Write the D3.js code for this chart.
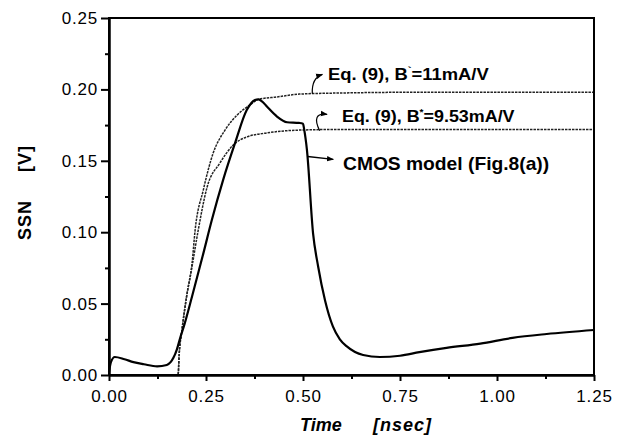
<!DOCTYPE html>
<html lang="en">
<head>
  <meta charset="UTF-8">
  <script src="https://d3js.org/d3.v7.min.js"></script>
  <title>SSN</title>
  <style>
    body { margin: 0; background: #fff; }
    text { font-family: "Liberation Sans", Arial, sans-serif; }
  </style>
</head>
<body>
  <script>
    // CMOS model (Fig.8(a)) - solid curve
    const cmosT = [0, 0.005, 0.015, 0.04, 0.063, 0.09, 0.124, 0.149, 0.166, 0.175, 0.183, 0.195,
                   0.214, 0.243, 0.265, 0.294, 0.325, 0.355, 0.376, 0.385, 0.395, 0.407, 0.433,
                   0.459, 0.49, 0.50, 0.503, 0.510, 0.526, 0.539, 0.557, 0.577, 0.595, 0.613,
                   0.655, 0.698, 0.75, 0.80, 0.87, 0.957, 1.04, 1.128, 1.25];
    const cmosV = [0.002, 0.009, 0.0126, 0.011, 0.009, 0.0075, 0.006, 0.007, 0.012, 0.018, 0.0255, 0.036,
                   0.055, 0.085, 0.1085, 0.1365, 0.1625, 0.1855, 0.1925, 0.193, 0.1915, 0.188, 0.181,
                   0.177, 0.1765, 0.176, 0.172, 0.158, 0.099, 0.076, 0.052, 0.034, 0.025, 0.020,
                   0.014, 0.0126, 0.0135, 0.016, 0.019, 0.022, 0.026, 0.0287, 0.0315];

    // Eq. (9), B'=11mA/V
    const eq11T = [0, 0.178, 0.181, 0.188, 0.2, 0.214, 0.222, 0.243, 0.268, 0.299, 0.33, 0.363,
                   0.385, 0.433, 0.49, 0.6, 0.8, 1.25];
    const eq11V = [0, 0, 0.015, 0.0315, 0.055, 0.078, 0.1015, 0.1295, 0.155, 0.1715, 0.182, 0.189,
                   0.193, 0.1947, 0.1967, 0.1975, 0.198, 0.198];

    // Eq. (9), B*=9.53mA/V
    const eq953T = [0, 0.178, 0.181, 0.188, 0.2, 0.214, 0.229, 0.253, 0.286, 0.32, 0.355, 0.407,
                    0.49, 0.6, 1.25];
    const eq953V = [0, 0, 0.015, 0.0315, 0.055, 0.076, 0.1, 0.1317, 0.1485, 0.161, 0.1667, 0.1695,
                    0.1715, 0.172, 0.172];

    const xTicks = [0, 0.25, 0.5, 0.75, 1.0, 1.25];
    const xMinor = [0.125, 0.375, 0.625, 0.875, 1.125];
    const yTicks = [0, 0.05, 0.10, 0.15, 0.20, 0.25];
    const yMinor = [0.025, 0.075, 0.125, 0.175, 0.225];

    const width = 628, height = 436;
    const mLeft = 109, mRight = 594, mTop = 18, mBottom = 375;

    const svg = d3.select("body").append("svg")
      .attr("width", width)
      .attr("height", height);

    const x = d3.scaleLinear().domain([0, 1.25]).range([mLeft, mRight]);
    const y = d3.scaleLinear().domain([0, 0.25]).range([mBottom, mTop]);

    // arrow marker
    svg.append("defs").append("marker")
      .attr("id", "arr")
      .attr("viewBox", "0 0 10 10")
      .attr("refX", 9).attr("refY", 5)
      .attr("markerWidth", 7).attr("markerHeight", 7)
      .attr("markerUnits", "userSpaceOnUse")
      .attr("orient", "auto")
      .append("path").attr("d", "M0,1 L10,5 L0,9 Z").attr("fill", "#000");

    // curves
    const line = d3.line()
      .x(d => x(d[0]))
      .y(d => y(d[1]))
      .curve(d3.curveMonotoneX);

    const zip = (a, b) => a.map((t, i) => [t, b[i]]);

    [zip(eq11T, eq11V), zip(eq953T, eq953V)].forEach(pts => {
      svg.append("path")
        .datum(pts)
        .attr("d", line)
        .attr("fill", "none")
        .attr("stroke", "#222")
        .attr("stroke-width", 1.5)
        .attr("stroke-dasharray", "2.5,1");
    });

    svg.append("path")
      .datum(zip(cmosT, cmosV))
      .attr("d", line)
      .attr("fill", "none")
      .attr("stroke", "#000")
      .attr("stroke-width", 2.2)
      .attr("stroke-linejoin", "round");

    // frame
    svg.append("rect")
      .attr("x", x(0)).attr("y", y(0.25))
      .attr("width", x(1.25) - x(0)).attr("height", y(0) - y(0.25))
      .attr("fill", "none").attr("stroke", "#000").attr("stroke-width", 2);

    // axes
    const xAxis = d3.axisBottom(x).tickValues(xTicks).tickSize(6).tickSizeOuter(0)
      .tickPadding(9).tickFormat(d3.format(".2f"));
    const xAxisMinor = d3.axisBottom(x).tickValues(xMinor).tickSize(4).tickSizeOuter(0).tickFormat("");
    const yAxis = d3.axisLeft(y).tickValues(yTicks).tickSize(8).tickSizeOuter(0)
      .tickPadding(3).tickFormat(d3.format(".2f"));
    const yAxisMinor = d3.axisLeft(y).tickValues(yMinor).tickSize(4).tickSizeOuter(0).tickFormat("");

    svg.append("g").attr("transform", `translate(0,${mBottom})`).call(xAxis);
    svg.append("g").attr("transform", `translate(0,${mBottom})`).call(xAxisMinor);
    svg.append("g").attr("transform", `translate(${mLeft},0)`).call(yAxis);
    svg.append("g").attr("transform", `translate(${mLeft},0)`).call(yAxisMinor);

    svg.selectAll(".domain").attr("stroke", "#000").attr("stroke-width", 2);
    svg.selectAll(".tick line").attr("stroke", "#000").attr("stroke-width", 2);
    svg.selectAll(".tick text")
      .attr("font-size", 17)
      .attr("letter-spacing", "0.8px")
      .attr("fill", "#000")
      .style("font-family", "'Liberation Sans', Arial, sans-serif");

    // axis titles
    svg.append("text")
      .attr("x", 300).attr("y", 431)
      .attr("font-size", 18).attr("font-weight", "bold").attr("font-style", "italic")
      .text("Time");
    svg.append("text")
      .attr("x", 373).attr("y", 431)
      .attr("font-size", 18).attr("font-weight", "bold").attr("font-style", "italic")
      .attr("letter-spacing", "1px")
      .text("[nsec]");

    svg.append("text")
      .attr("transform", "translate(31,240) rotate(-90)")
      .attr("font-size", 18).attr("font-weight", "bold")
      .attr("letter-spacing", "1px")
      .text("SSN");
    svg.append("text")
      .attr("transform", "translate(31,172) rotate(-90)")
      .attr("font-size", 18).attr("font-weight", "bold")
      .attr("letter-spacing", "1px")
      .text("[V]");

    // annotations (glyphs slightly wide, as in the scan)
    const a1 = svg.append("text")
      .attr("transform", "translate(328,80) scale(1.15,1)")
      .attr("font-size", 16).attr("font-weight", "bold");
    a1.append("tspan").text("Eq. (9), B");
    a1.append("tspan").attr("font-size", 10).attr("dy", -6).text("`");
    a1.append("tspan").attr("dy", 6).text("=11mA/V");

    const a2 = svg.append("text")
      .attr("transform", "translate(342,122) scale(1.12,1)")
      .attr("font-size", 16).attr("font-weight", "bold");
    a2.append("tspan").text("Eq. (9), B");
    a2.append("tspan").attr("font-size", 9).attr("dy", -7).text("*");
    a2.append("tspan").attr("dy", 7).text("=9.53mA/V");

    svg.append("text")
      .attr("transform", "translate(343,170) scale(1.1,1)")
      .attr("font-size", 17.5).attr("font-weight", "bold")
      .text("CMOS model (Fig.8(a))");

    // arrows
    svg.append("path")
      .attr("d", `M${x(0.524)},${y(0.197)} Q${x(0.522)},${y(0.208)} ${x(0.55)},${y(0.2105)}`)
      .attr("fill", "none").attr("stroke", "#000").attr("stroke-width", 1.2)
      .attr("marker-end", "url(#arr)");
    svg.append("path")
      .attr("d", `M${x(0.543)},${y(0.171)} Q${x(0.52)},${y(0.184)} ${x(0.562)},${y(0.1825)}`)
      .attr("fill", "none").attr("stroke", "#000").attr("stroke-width", 1.2)
      .attr("marker-end", "url(#arr)");
    svg.append("path")
      .attr("d", `M${x(0.512)},${y(0.153)} L${x(0.578)},${y(0.151)}`)
      .attr("fill", "none").attr("stroke", "#000").attr("stroke-width", 1.4)
      .attr("marker-end", "url(#arr)");
  </script>
</body>
</html>
